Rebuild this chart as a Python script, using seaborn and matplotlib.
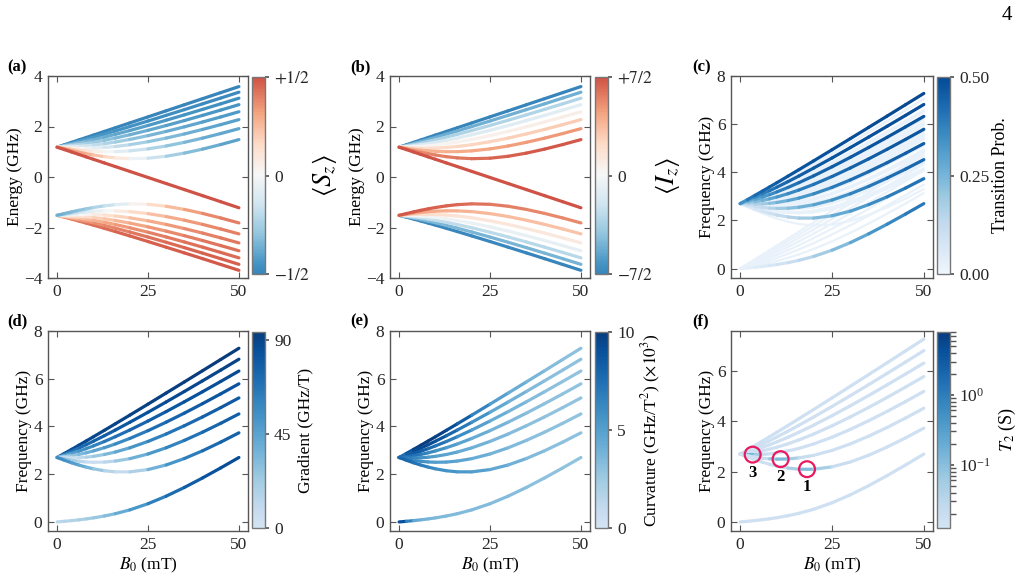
import numpy as np
import seaborn as sns
import matplotlib.pyplot as plt
from matplotlib.collections import LineCollection
from matplotlib.colors import ListedColormap, Normalize, LogNorm
from matplotlib.cm import ScalarMappable

# Magnetic field grid (mT)
B_mT = [0, 2, 4, 6, 8, 10, 13, 16, 20, 25, 30, 35, 40, 45, 50]

# Energy levels (GHz); upper branch, m_F = -4 ... +3
E_up_m4 = [1.181, 1.277, 1.373, 1.469, 1.565, 1.661, 1.805, 1.949, 2.141, 2.381, 2.621, 2.861, 3.101, 3.341, 3.581]
E_up_m3 = [1.181, 1.255, 1.331, 1.409, 1.489, 1.571, 1.696, 1.823, 1.997, 2.217, 2.442, 2.668, 2.897, 3.127, 3.359]
E_up_m2 = [1.181, 1.232, 1.287, 1.346, 1.409, 1.475, 1.579, 1.689, 1.841, 2.041, 2.248, 2.461, 2.678, 2.898, 3.121]
E_up_m1 = [1.181, 1.208, 1.242, 1.280, 1.324, 1.373, 1.454, 1.543, 1.673, 1.849, 2.038, 2.235, 2.440, 2.650, 2.865]
E_up_0 = [1.181, 1.185, 1.195, 1.212, 1.235, 1.264, 1.319, 1.384, 1.488, 1.638, 1.805, 1.987, 2.178, 2.378, 2.585]
E_up_p1 = [1.181, 1.161, 1.147, 1.139, 1.139, 1.146, 1.169, 1.208, 1.279, 1.397, 1.541, 1.705, 1.884, 2.074, 2.273]
E_up_p2 = [1.181, 1.136, 1.096, 1.063, 1.036, 1.017, 1.002, 1.004, 1.035, 1.113, 1.228, 1.373, 1.539, 1.721, 1.915]
E_up_p3 = [1.181, 1.111, 1.044, 0.981, 0.923, 0.871, 0.805, 0.757, 0.726, 0.744, 0.821, 0.946, 1.104, 1.285, 1.481]

# lower branch, m_F = -3 ... +3, then the falling m_F = +4 state
E_lo_m3 = [-1.519, -1.592, -1.668, -1.746, -1.826, -1.908, -2.033, -2.161, -2.334, -2.555, -2.780, -3.006, -3.234, -3.465, -3.696]
E_lo_m2 = [-1.519, -1.569, -1.624, -1.683, -1.746, -1.812, -1.916, -2.026, -2.179, -2.378, -2.585, -2.798, -3.015, -3.235, -3.459]
E_lo_m1 = [-1.519, -1.546, -1.579, -1.618, -1.662, -1.711, -1.791, -1.881, -2.011, -2.187, -2.375, -2.573, -2.777, -2.988, -3.202]
E_lo_0 = [-1.519, -1.522, -1.532, -1.549, -1.572, -1.602, -1.656, -1.722, -1.825, -1.975, -2.143, -2.324, -2.516, -2.716, -2.922]
E_lo_p1 = [-1.519, -1.498, -1.484, -1.477, -1.477, -1.484, -1.507, -1.545, -1.617, -1.735, -1.879, -2.043, -2.221, -2.412, -2.611]
E_lo_p2 = [-1.519, -1.473, -1.434, -1.400, -1.374, -1.354, -1.339, -1.342, -1.372, -1.450, -1.566, -1.711, -1.877, -2.059, -2.253]
E_lo_p3 = [-1.519, -1.448, -1.381, -1.319, -1.261, -1.208, -1.143, -1.095, -1.063, -1.081, -1.159, -1.284, -1.442, -1.623, -1.819]
E_p4 = [1.181, 1.085, 0.989, 0.893, 0.797, 0.701, 0.557, 0.413, 0.221, -0.019, -0.259, -0.499, -0.739, -0.979, -1.219]

mF_up = [-4, -3, -2, -1, 0, 1, 2, 3]
mF_lo = [-3, -2, -1, 0, 1, 2, 3, 4]

# Transition probability of the eight allowed lines (upper i -> lower i), top to bottom
P_1 = [0.30, 0.38, 0.42, 0.44, 0.45, 0.46, 0.47, 0.48, 0.48, 0.49, 0.49, 0.49, 0.50, 0.50, 0.50]
P_2 = [0.22, 0.28, 0.33, 0.37, 0.40, 0.42, 0.44, 0.45, 0.46, 0.47, 0.48, 0.48, 0.49, 0.49, 0.49]
P_3 = [0.17, 0.22, 0.27, 0.31, 0.34, 0.37, 0.40, 0.42, 0.44, 0.45, 0.46, 0.47, 0.48, 0.48, 0.48]
P_4 = [0.13, 0.17, 0.21, 0.25, 0.28, 0.31, 0.35, 0.38, 0.40, 0.42, 0.44, 0.45, 0.46, 0.47, 0.47]
P_5 = [0.10, 0.12, 0.15, 0.18, 0.21, 0.24, 0.28, 0.31, 0.35, 0.38, 0.41, 0.43, 0.44, 0.45, 0.46]
P_6 = [0.07, 0.08, 0.10, 0.12, 0.14, 0.17, 0.21, 0.24, 0.28, 0.32, 0.36, 0.39, 0.41, 0.43, 0.44]
P_7 = [0.04, 0.05, 0.06, 0.08, 0.09, 0.11, 0.14, 0.17, 0.21, 0.26, 0.30, 0.34, 0.37, 0.40, 0.42]
P_8 = [0.02, 0.03, 0.04, 0.05, 0.06, 0.08, 0.10, 0.12, 0.16, 0.21, 0.26, 0.31, 0.35, 0.38, 0.41]
P_weak = 0.02

# Curvature (GHz/T^2, x10^3) along the eight allowed lines
K_1 = [7.0, 8.5, 9.5, 10.0, 10.0, 10.0, 9.5, 9.0, 7.5, 5.5, 4.5, 4.0, 3.5, 3.2, 3.0]
K_2 = [7.0, 8.0, 9.0, 9.5, 9.5, 9.0, 8.5, 7.5, 6.5, 5.0, 4.2, 3.7, 3.3, 3.1, 3.0]
K_3 = [7.0, 8.0, 8.5, 8.5, 8.0, 7.5, 7.0, 6.5, 5.5, 4.5, 4.0, 3.5, 3.2, 3.0, 3.0]
K_4 = [7.0, 7.5, 7.5, 7.0, 6.5, 6.0, 5.5, 5.0, 4.5, 4.0, 3.6, 3.3, 3.1, 3.0, 3.0]
K_5 = [7.0, 7.0, 6.5, 6.0, 5.5, 5.0, 4.8, 4.5, 4.2, 3.8, 3.5, 3.2, 3.0, 3.0, 3.0]
K_6 = [7.5, 7.0, 6.5, 6.0, 5.5, 5.2, 5.0, 4.8, 4.5, 4.0, 3.6, 3.3, 3.1, 3.0, 3.0]
K_7 = [8.0, 8.0, 7.5, 7.0, 6.5, 6.0, 5.8, 5.5, 5.3, 4.8, 4.2, 3.7, 3.3, 3.1, 3.0]
K_8 = [10.0, 8.0, 5.0, 4.0, 3.8, 3.6, 3.5, 3.5, 3.5, 3.4, 3.3, 3.2, 3.1, 3.0, 3.0]

# T2 (s) along the lines with clock transitions; other lines sit at T2_floor
T2_line5 = [0.02, 0.15, 0.12, 0.03, 0.018, 0.016, 0.016, 0.016, 0.016, 0.016, 0.016, 0.016, 0.016, 0.016, 0.016]
T2_line6 = [0.016, 0.016, 0.016, 0.018, 0.03, 0.15, 0.10, 0.025, 0.017, 0.016, 0.016, 0.016, 0.016, 0.016, 0.016]
T2_line7 = [0.016, 0.016, 0.016, 0.016, 0.016, 0.017, 0.022, 0.12, 0.12, 0.022, 0.017, 0.016, 0.016, 0.016, 0.016]
T2_floor = 0.016

clock_B = [18.2, 11.0, 3.4]
clock_f = [2.10, 2.50, 2.68]
clock_labels = ["1", "2", "3"]

sns.set_theme(style="ticks")
plt.rcParams.update({
    "font.family": "serif",
    "font.serif": ["Liberation Serif", "DejaVu Serif"],
    "mathtext.fontset": "stix",
    "font.size": 12.5,
    "axes.edgecolor": "#555555",
    "axes.linewidth": 1.0,
    "text.color": "black",
    "axes.labelcolor": "black",
})

B = np.array(B_mT, dtype=float)
upper = [np.array(e) for e in (E_up_m4, E_up_m3, E_up_m2, E_up_m1, E_up_0, E_up_p1, E_up_p2, E_up_p3)]
lower = [np.array(e) for e in (E_lo_m3, E_lo_m2, E_lo_m1, E_lo_0, E_lo_p1, E_lo_p2, E_lo_p3, E_p4)]
probs = [P_1, P_2, P_3, P_4, P_5, P_6, P_7, P_8]
curvs = [K_1, K_2, K_3, K_4, K_5, K_6, K_7, K_8]
slope_ref = (upper[0][-1] - upper[0][0]) / (B[-1] - B[0])


def spin_z(E):
    return np.clip(-0.5 * np.gradient(E, B) / slope_ref, -0.5, 0.5)


def trunc(name, lo, hi):
    base = sns.color_palette(name, as_cmap=True)
    return ListedColormap(base(np.linspace(lo, hi, 256)))


cmap_rb = trunc("RdBu_r", 0.17, 0.82)
cmap_c = trunc("Blues", 0.04, 0.9)
cmap_b = trunc("Blues", 0.18, 0.95)


def colored_line(ax, y, c, cmap, norm, lw=2.3, log=False, z=2):
    pts = np.column_stack([B, y])
    segs = np.stack([pts[:-1], pts[1:]], axis=1)
    c = np.asarray(c, dtype=float)
    cv = np.sqrt(c[:-1] * c[1:]) if log else 0.5 * (c[:-1] + c[1:])
    lc = LineCollection(segs, cmap=cmap, norm=norm, linewidths=lw,
                        capstyle="round", joinstyle="round", zorder=z)
    lc.set_array(cv)
    ax.add_collection(lc)


fig = plt.figure(figsize=(10.2, 5.76), dpi=100)


def px(x0, y0, w, h):
    return [x0 / 1020, 1 - (y0 + h) / 576, w / 1020, h / 576]


col_left = [48, 390, 731]
col_w = [200, 200, 202]
row_top = [76, 331]
row_h = [202, 200]
cb_left = [252, 595, 937]
cb_top = [77, 332]
cb_h = [197, 196]


def make_ax(r, c, ylim, yticks, ylabel):
    ax = fig.add_axes(px(col_left[c], row_top[r], col_w[c], row_h[r]))
    ax.set_xlim(-2.5, 52.5)
    ax.set_xticks([0, 25, 50])
    ax.set_ylim(*ylim)
    ax.set_yticks(yticks)
    ax.set_ylabel(ylabel, fontsize=12.5, labelpad=1)
    if r == 1:
        ax.set_xlabel("$B_0$ (mT)", fontsize=12.5, labelpad=2)
    ax.tick_params(direction="in", top=True, right=True, length=4, width=0.8,
                   color="#555555", labelsize=12.5, pad=4)
    return ax


def add_cbar(r, c, cmap, norm, ticks, ticklabels, label, lsize, lpad):
    cax = fig.add_axes(px(cb_left[c], cb_top[r], 13, cb_h[r]))
    cb = fig.colorbar(ScalarMappable(norm=norm, cmap=cmap), cax=cax)
    if ticks is not None:
        cb.set_ticks(ticks)
        cb.set_ticklabels(ticklabels)
    cb.outline.set_edgecolor("#777777")
    cb.outline.set_linewidth(1.0)
    cax.tick_params(which="both", direction="out", color="#555555", labelsize=12.5)
    cax.tick_params(which="major", length=3)
    cb.set_label(label, fontsize=lsize, labelpad=lpad)
    return cb


# (a) energy levels coloured by <S_z>
norm_s = Normalize(-0.5, 0.5)
ax_a = make_ax(0, 0, (-4, 4), [-4, -2, 0, 2, 4], "Energy (GHz)")
for E in upper + lower:
    colored_line(ax_a, E, spin_z(E), cmap_rb, norm_s)
add_cbar(0, 0, cmap_rb, norm_s, [-0.5, 0, 0.5], ["$-1/2$", "0", "$+1/2$"],
         r"$\langle S_z \rangle$", 19, 0)

# (b) energy levels coloured by <I_z> = m_F - <S_z>
norm_i = Normalize(-3.5, 3.5)
ax_b = make_ax(0, 1, (-4, 4), [-4, -2, 0, 2, 4], "Energy (GHz)")
for E, m in zip(upper + lower, mF_up + mF_lo):
    colored_line(ax_b, E, m - spin_z(E), cmap_rb, norm_i)
add_cbar(0, 1, cmap_rb, norm_i, [-3.5, 0, 3.5], ["$-7/2$", "0", "$+7/2$"],
         r"$\langle I_z \rangle$", 19, 0)

# (c) all transitions coloured by transition probability
norm_p = Normalize(0, 0.5)
ax_c = make_ax(0, 2, (-0.39, 8), [0, 2, 4, 6, 8], "Frequency (GHz)")
for i in range(8):
    for j in range(8):
        if i != j:
            colored_line(ax_c, upper[i] - lower[j], np.full(len(B), P_weak),
                         cmap_c, norm_p, lw=1.6, z=1)
for i in range(8)[::-1]:
    colored_line(ax_c, upper[i] - lower[i], probs[i], cmap_c, norm_p)
add_cbar(0, 2, cmap_c, norm_p, [0, 0.25, 0.5], ["0.00", "0.25", "0.50"],
         "Transition Prob.", 13, 2)

freqs = [upper[i] - lower[i] for i in range(8)]

# (d) gradient
norm_g = Normalize(0, 94)
ax_d = make_ax(1, 0, (-0.38, 8), [0, 2, 4, 6, 8], "Frequency (GHz)")
for f in freqs:
    colored_line(ax_d, f, np.abs(np.gradient(f, B)) * 1000, cmap_b, norm_g)
add_cbar(1, 0, cmap_b, norm_g, [0, 45, 90], ["0", "45", "90"],
         "Gradient (GHz/T)", 12.5, 4)

# (e) curvature
norm_k = Normalize(0, 10)
ax_e = make_ax(1, 1, (-0.38, 8), [0, 2, 4, 6, 8], "Frequency (GHz)")
for f, k in zip(freqs, curvs):
    colored_line(ax_e, f, k, cmap_b, norm_k)
add_cbar(1, 1, cmap_b, norm_k, [0, 5, 10], ["0", "5", "10"],
         r"Curvature (GHz/T$^2$) ($\times 10^3$)", 12.5, 4)

# (f) coherence time
norm_t = LogNorm(0.0124, 8.0)
ax_f = make_ax(1, 2, (-0.36, 7.6), [0, 2, 4, 6], "Frequency (GHz)")
t2_lines = {4: T2_line5, 5: T2_line6, 6: T2_line7}
for i, f in enumerate(freqs):
    t2 = t2_lines.get(i, np.full(len(B), T2_floor))
    colored_line(ax_f, f, t2, cmap_b, norm_t, log=True)
ax_f.scatter(clock_B, clock_f, s=130, facecolors="none", edgecolors="#e8195e",
             linewidths=1.6, zorder=5)
for xb, yf, lab in zip(clock_B, clock_f, clock_labels):
    ax_f.annotate(lab, (xb, yf), xytext=(0, -13), textcoords="offset points",
                  ha="center", va="center", fontsize=12, fontweight="bold")
add_cbar(1, 2, cmap_b, norm_t, None, None, "$T_2$ (S)", 13, 4)

# panel letters and page number
for lab, xp, yp in [("(a)", 7, 67), ("(b)", 350, 67), ("(c)", 692, 67),
                    ("(d)", 7, 321), ("(e)", 350, 321), ("(f)", 692, 321)]:
    fig.text(xp / 1020, 1 - yp / 576, lab, fontsize=12, fontweight="bold",
             ha="left", va="center")
fig.text(1012 / 1020, 1 - 15 / 576, "4", fontsize=15, ha="right", va="center")

fig.savefig("out.png", dpi=100)
